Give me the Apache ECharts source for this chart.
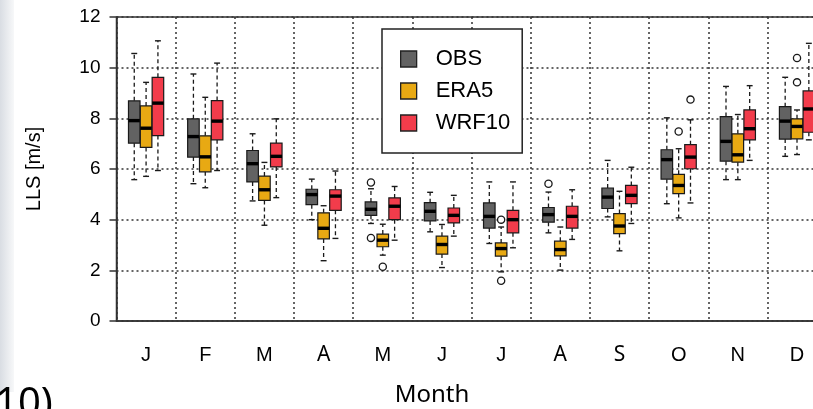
<!DOCTYPE html>
<html>
<head>
<meta charset="utf-8">
<script src="https://cdn.jsdelivr.net/npm/echarts@6/dist/echarts.min.js"></script>
<style>html,body{margin:0;padding:0;background:#fff;}#c{width:813px;height:409px;}</style>
</head>
<body>
<div id="c"></div>
<script>
const months = ['J','F','M','A','M','J','J','A','S','O','N','D'];
const yTicks = [0, 2, 4, 6, 8, 10, 12];
// each row: [lower whisker, Q1, median, Q3, upper whisker]
const obs = [
  [5.58, 7.02, 7.91, 8.69, 10.56],
  [5.42, 6.47, 7.28, 7.98, 9.75],
  [4.74, 5.49, 6.21, 6.73, 7.39],
  [4.00, 4.59, 4.99, 5.20, 5.60],
  [3.85, 4.17, 4.41, 4.70, 5.22],
  [3.52, 3.95, 4.33, 4.67, 5.08],
  [3.06, 3.67, 4.13, 4.66, 5.49],
  [3.48, 3.90, 4.20, 4.48, 5.09],
  [4.11, 4.44, 4.89, 5.25, 6.34],
  [4.63, 5.60, 6.37, 6.76, 8.02],
  [5.58, 6.31, 7.09, 8.07, 9.26],
  [6.50, 7.18, 7.89, 8.46, 9.62]
];
const era5 = [
  [5.71, 6.85, 7.61, 8.49, 9.42],
  [5.26, 5.89, 6.48, 7.31, 8.83],
  [3.78, 4.76, 5.18, 5.72, 6.26],
  [2.38, 3.24, 3.66, 4.27, 4.55],
  [2.60, 2.93, 3.19, 3.43, 3.82],
  [2.11, 2.64, 3.02, 3.35, 3.81],
  [1.94, 2.56, 2.86, 3.08, 3.71],
  [2.01, 2.57, 2.82, 3.15, 3.71],
  [2.77, 3.45, 3.75, 4.24, 5.12],
  [4.07, 5.03, 5.35, 5.79, 6.80],
  [5.58, 6.27, 6.56, 7.39, 8.15],
  [6.57, 7.19, 7.68, 7.98, 8.33]
];
const wrf10 = [
  [5.94, 7.32, 8.60, 9.62, 11.06],
  [5.94, 7.15, 7.89, 8.70, 10.18],
  [4.87, 6.08, 6.50, 7.02, 7.98],
  [3.26, 4.37, 4.93, 5.18, 5.92],
  [3.19, 4.00, 4.53, 4.86, 5.31],
  [3.35, 3.87, 4.17, 4.46, 4.96],
  [2.89, 3.48, 4.00, 4.37, 5.49],
  [3.22, 3.67, 4.13, 4.53, 5.18],
  [3.85, 4.63, 4.96, 5.35, 6.07],
  [4.66, 6.01, 6.47, 6.96, 7.94],
  [6.34, 7.15, 7.59, 8.33, 9.29],
  [7.15, 7.45, 8.37, 9.08, 10.96]
];
// outliers: [month index, value]
const obsOut = [[4, 5.47], [4, 3.28], [7, 5.42]];
const era5Out = [[4, 2.14], [6, 4.00], [6, 1.59], [9, 7.48], [11, 10.38], [11, 9.42]];
const wrf10Out = [[9, 8.74]];

const seriesNames = ['OBS', 'ERA5', 'WRF10'];
const seriesColors = ['#626262', '#e8a913', '#f23c4b'];

const INK = '#1a1a1a';

function boxSeries(name, rows, color, k) {
  return {
    type: 'custom',
    name: name,
    data: rows.map((r, i) => [i].concat(r)),
    itemStyle: { color: color },
    encode: { x: 0, y: [1, 2, 3, 4, 5] },
    z: 3,
    renderItem: function (params, api) {
      const i = api.value(0);
      const band = api.size([1, 0])[0];
      const off = k * band * 0.2;
      const w = band * 0.195;
      const cap = band * 0.1;
      const cx = api.coord([i, 0])[0] + off;
      const y = v => api.coord([i, v])[1];
      const yLow = y(api.value(1)), yQ1 = y(api.value(2)), yMed = y(api.value(3)),
            yQ3 = y(api.value(4)), yHigh = y(api.value(5));
      const dash = { stroke: INK, lineWidth: 1.3, lineDash: [4, 3] };
      const solid = { stroke: INK, lineWidth: 1.4 };
      return {
        type: 'group',
        children: [
          { type: 'line', shape: { x1: cx, y1: yQ3, x2: cx, y2: yHigh }, style: dash },
          { type: 'line', shape: { x1: cx, y1: yQ1, x2: cx, y2: yLow }, style: dash },
          { type: 'line', shape: { x1: cx - cap / 2, y1: yHigh, x2: cx + cap / 2, y2: yHigh }, style: solid },
          { type: 'line', shape: { x1: cx - cap / 2, y1: yLow, x2: cx + cap / 2, y2: yLow }, style: solid },
          { type: 'rect', shape: { x: cx - w / 2, y: yQ3, width: w, height: yQ1 - yQ3 },
            style: { fill: color, stroke: INK, lineWidth: 1.2 } },
          { type: 'line', shape: { x1: cx - w / 2, y1: yMed, x2: cx + w / 2, y2: yMed },
            style: { stroke: '#000', lineWidth: 3.4 } }
        ]
      };
    }
  };
}

function outlierSeries(name, pts, k) {
  return {
    type: 'custom',
    name: name,
    data: pts,
    encode: { x: 0, y: 1 },
    z: 3,
    renderItem: function (params, api) {
      const band = api.size([1, 0])[0];
      const p = api.coord([api.value(0), api.value(1)]);
      return {
        type: 'circle',
        shape: { cx: p[0] + k * band * 0.2, cy: p[1], r: 3.6 },
        style: { fill: '#fff', stroke: INK, lineWidth: 1.3 }
      };
    }
  };
}

const chart = echarts.init(document.getElementById('c'), null, { renderer: 'canvas' });
const specialFont = { 3: true, 7: true, 8: true };

chart.setOption({
  animation: false,
  backgroundColor: '#fff',
  grid: { left: 116.5, right: -13.6, top: 17, bottom: 88, outerBoundsMode: 'none', show: true,
          borderColor: '#333', borderWidth: 1.5, backgroundColor: 'transparent' },
  legend: {
    orient: 'vertical', left: 382, top: 29,
    padding: [19, 12, 19, 18], itemGap: 10, itemWidth: 16, itemHeight: 16,
    backgroundColor: '#fff', borderColor: '#222', borderWidth: 1.5,
    selectedMode: false,
    textStyle: { fontSize: 22, fontFamily: 'Liberation Sans', color: '#000', lineHeight: 16, padding: [0, 0, 0, 14] },
    data: seriesNames.map((n, i) => ({
      name: n, icon: 'rect',
      itemStyle: { color: seriesColors[i], borderColor: '#222', borderWidth: 1.3 }
    }))
  },
  xAxis: {
    type: 'category', data: months, boundaryGap: true,
    axisLine: { lineStyle: { color: '#333', width: 1.5 } },
    axisTick: { alignWithLabel: true, length: 7, lineStyle: { color: '#333', width: 1.5 } },
    axisLabel: {
      margin: 24, fontSize: 20, color: '#000', fontFamily: 'Liberation Sans',
      formatter: function (v, idx) { return specialFont[idx] ? '{s|' + v + '}' : v; },
      rich: { s: { fontSize: 21, fontFamily: 'Noto Sans', color: '#000' } }
    },
    splitLine: { show: true, lineStyle: { type: [2, 3], color: '#333', width: 1.5 } }
  },
  yAxis: {
    type: 'value', min: yTicks[0], max: yTicks[yTicks.length - 1], interval: 2,
    axisLine: { show: true, lineStyle: { color: '#333', width: 1.5 } },
    axisTick: { show: true, length: 7, lineStyle: { color: '#333', width: 1.5 } },
    axisLabel: { margin: 16, fontSize: 19, color: '#000', fontFamily: 'Liberation Sans' },
    splitLine: { show: true, lineStyle: { type: [2, 3], color: '#333', width: 1.5 } },
    name: 'LLS [m/s]', nameLocation: 'middle', nameGap: 72,
    nameTextStyle: { fontSize: 20, fontFamily: 'Liberation Sans', color: '#000' }
  },
  graphic: [
    { type: 'rect', left: 0, top: 0, shape: { width: 14, height: 392 }, z: -10,
      style: { fill: new echarts.graphic.LinearGradient(0, 0, 1, 0, [
        { offset: 0, color: '#d9dde3' }, { offset: 1, color: '#f7f8f9' }]) } },
    { type: 'text', x: 432, y: 395, z: 10,
      style: { text: 'Month', fontSize: 24, fontFamily: 'Noto Sans', fill: '#000',
               textAlign: 'center', textVerticalAlign: 'middle' } },
    { type: 'text', x: -5, y: 385, z: 10,
      style: { text: '10)', fontSize: 40, fontFamily: 'Noto Sans', fill: '#000',
               textAlign: 'left', textVerticalAlign: 'top' } }
  ],
  series: [
    boxSeries(seriesNames[0], obs, seriesColors[0], -1),
    boxSeries(seriesNames[1], era5, seriesColors[1], 0),
    boxSeries(seriesNames[2], wrf10, seriesColors[2], 1),
    outlierSeries(seriesNames[0], obsOut, -1),
    outlierSeries(seriesNames[1], era5Out, 0),
    outlierSeries(seriesNames[2], wrf10Out, 1)
  ]
});
</script>
</body>
</html>
